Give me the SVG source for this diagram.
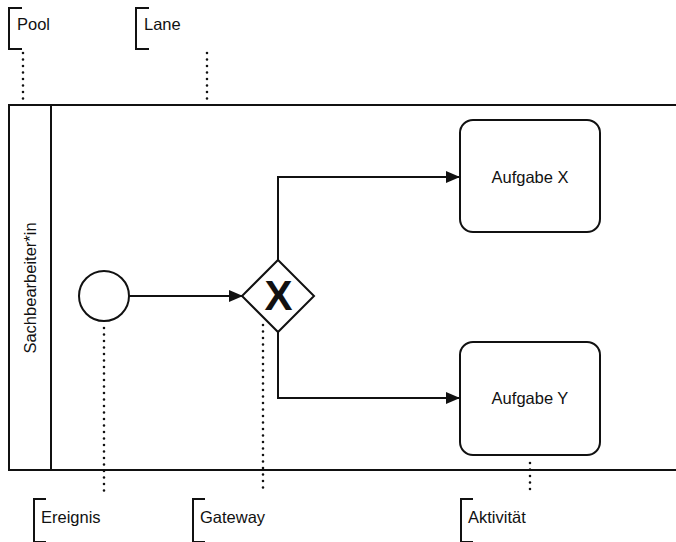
<svg xmlns="http://www.w3.org/2000/svg" width="676" height="542" viewBox="0 0 676 542">
<defs>
<marker id="arr" markerWidth="14" markerHeight="12" refX="13" refY="6" orient="auto" markerUnits="userSpaceOnUse">
<path d="M0,0 L14,6 L0,12 Z" fill="#111"/>
</marker>
<style>
.shape{fill:#fff;stroke:#111;stroke-width:2}
.flow{fill:none;stroke:#111;stroke-width:2}
.dot{fill:none;stroke:#111;stroke-width:2.6;stroke-linecap:round;stroke-dasharray:0 6.5}
.br{fill:none;stroke:#111;stroke-width:2}
.t{font-family:"Liberation Sans",Arial,sans-serif;font-size:16.5px;fill:#111}
</style>
</defs>
<rect width="676" height="542" fill="#fff"/>
<g id="pool">
<rect class="shape" x="9" y="105" width="680" height="365"/>
<line class="flow" x1="51" y1="105" x2="51" y2="470"/>
<text class="t" transform="translate(36,288) rotate(-90)" text-anchor="middle">Sachbearbeiter*in</text>
</g>
<g id="connectors">
<line class="flow" x1="129" y1="296" x2="242" y2="296" marker-end="url(#arr)"/>
<polyline class="flow" points="278,260 278,177 459,177" marker-end="url(#arr)"/>
<polyline class="flow" points="278,332 278,398 459,398" marker-end="url(#arr)"/>
<line class="dot" x1="23" y1="53" x2="23" y2="100"/>
<line class="dot" x1="207" y1="53" x2="207" y2="100"/>
<line class="dot" x1="104" y1="328" x2="104" y2="497"/>
<line class="dot" x1="263" y1="325" x2="263" y2="494"/>
<line class="dot" x1="530" y1="463" x2="530" y2="495"/>
</g>
<g id="start-event">
<circle class="shape" cx="104" cy="296" r="25"/>
</g>
<g id="gateway">
<polygon class="shape" points="278,260 314,296 278,332 242,296"/>
<text x="278.5" y="310" text-anchor="middle" font-family="'Liberation Sans',Arial,sans-serif" font-weight="bold" font-size="42" fill="#111">X</text>
</g>
<g id="task-x">
<rect class="shape" x="460" y="120" width="140" height="112" rx="13"/>
<text class="t" x="530" y="183" text-anchor="middle">Aufgabe X</text>
</g>
<g id="task-y">
<rect class="shape" x="460" y="342" width="140" height="113" rx="13"/>
<text class="t" x="530" y="404" text-anchor="middle">Aufgabe Y</text>
</g>
<g id="label-pool">
<polyline class="br" points="22,8 9,8 9,49 22,49"/>
<text class="t" x="17" y="30">Pool</text>
</g>
<g id="label-lane">
<polyline class="br" points="149,8 136,8 136,49 149,49"/>
<text class="t" x="144" y="30">Lane</text>
</g>
<g id="label-ereignis">
<polyline class="br" points="46,499 34,499 34,542 46,542"/>
<text class="t" x="41" y="523">Ereignis</text>
</g>
<g id="label-gateway">
<polyline class="br" points="205,499 193,499 193,542 205,542"/>
<text class="t" x="200" y="523">Gateway</text>
</g>
<g id="label-aktivitaet">
<polyline class="br" points="473,499 461,499 461,542 473,542"/>
<text class="t" x="468" y="523">Aktivität</text>
</g>
</svg>
